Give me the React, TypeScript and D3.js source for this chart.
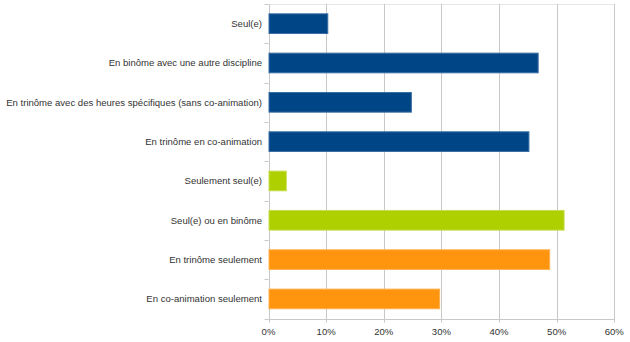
import React from "react";
import * as d3 from "d3";

const categories = [
  "Seul(e)",
  "En binôme avec une autre discipline",
  "En trinôme avec des heures spécifiques (sans co-animation)",
  "En trinôme en co-animation",
  "Seulement seul(e)",
  "Seul(e) ou en binôme",
  "En trinôme seulement",
  "En co-animation seulement",
];
const values = [0.102, 0.467, 0.247, 0.451, 0.03, 0.512, 0.487, 0.296];
const groups = ["blue", "blue", "blue", "blue", "green", "green", "orange", "orange"];
const xTicks = [0, 0.1, 0.2, 0.3, 0.4, 0.5, 0.6];

const fillColors: Record<string, string> = { blue: "#004586", green: "#aecf00", orange: "#ff950e" };
const strokeColors: Record<string, string> = { blue: "#3a6fa3", green: "#c4dd4d", orange: "#ffb14e" };

export default function App() {
  const W = 630, H = 342;
  const left = 268.5, right = 614.3, top = 4, bottom = 318.6;
  const x = d3.scaleLinear().domain([0, 0.6]).range([left, right]);
  const y = d3.scaleBand<string>().domain(categories).range([top, bottom]).paddingInner(0.5).paddingOuter(0.25);
  const bandStep = (bottom - top) / categories.length;
  const fmt = d3.format(".0%");
  return (
    <svg width={W} height={H} style={{ position: "absolute", left: 0, top: 0, fontFamily: "'Liberation Sans', Arial, sans-serif" }}>
      <rect width={W} height={H} fill="#fff" />
      <line x1={left} x2={right} y1={top + 0.5} y2={top + 0.5} stroke="#e6e6e6" />
      {xTicks.map((t) => (
        <line key={t} x1={Math.round(x(t)) + 0.5} x2={Math.round(x(t)) + 0.5} y1={top} y2={bottom + 4} stroke="#c8c8c8" strokeWidth={1} />
      ))}
      <line x1={left} x2={right} y1={Math.round(bottom) + 0.5} y2={Math.round(bottom) + 0.5} stroke="#c8c8c8" />
      {d3.range(categories.length + 1).map((i) => (
        <line key={i} x1={left - 4} x2={left} y1={Math.round(top + i * bandStep) + 0.5} y2={Math.round(top + i * bandStep) + 0.5} stroke="#c8c8c8" />
      ))}
      {categories.map((c, i) => (
        <rect
          key={c}
          x={x(0) + 0.5}
          y={y(c)!}
          width={x(values[i]) - x(0)}
          height={y.bandwidth()}
          fill={fillColors[groups[i]]}
          stroke={strokeColors[groups[i]]}
          strokeWidth={1}
        />
      ))}
      {categories.map((c) => (
        <text key={c} x={262} y={y(c)! + y.bandwidth() / 2} dy="0.35em" textAnchor="end" fontSize={9.55} fill="#333">
          {c}
        </text>
      ))}
      {xTicks.map((t) => (
        <text key={t} x={x(t)} y={332} dy="0.35em" textAnchor="middle" fontSize={9.55} fill="#333">
          {fmt(t)}
        </text>
      ))}
    </svg>
  );
}
